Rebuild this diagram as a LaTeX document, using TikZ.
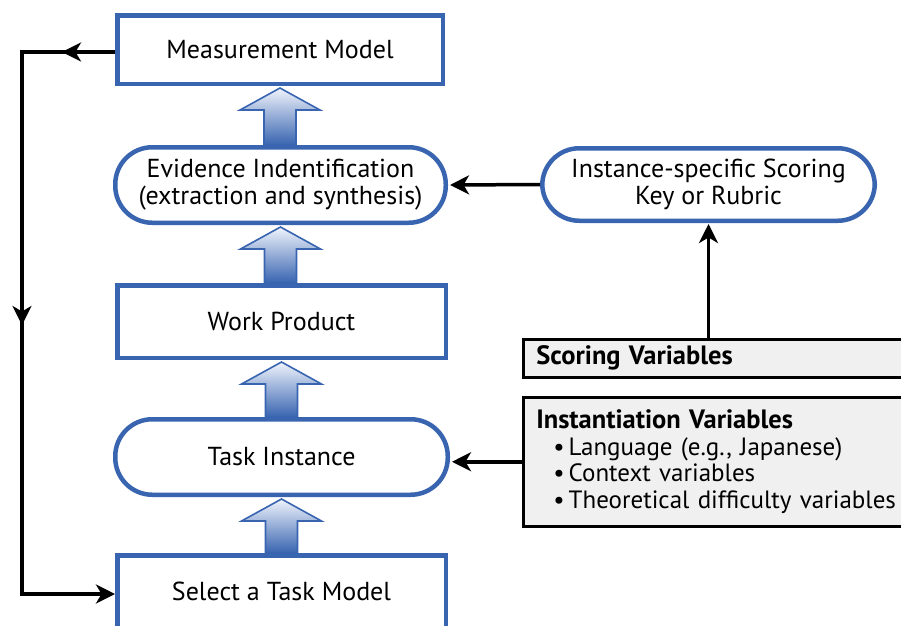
\documentclass[tikz,border=0pt]{standalone}
\usepackage{fontspec}
\setmainfont{PT Sans}
\usetikzlibrary{arrows.meta,decorations.markings,calc}
\definecolor{boxblue}{RGB}{56,100,176}
\definecolor{lightfill}{RGB}{239,240,239}
\definecolor{arrowtop}{RGB}{240,244,252}
\newcommand{\blockarrow}[2]{%
  \shadedraw[top color=arrowtop, bottom color=boxblue, draw=boxblue, line width=1.6pt, line join=miter]
    let \p1=(#1.south), \p2=(#2.north) in
    (\x1,\y1-2pt) -- (\x1+40pt,\y1-24pt) -- (\x1+16pt,\y1-24pt) -- (\x1+16pt,\y2)
    -- (\x1-16pt,\y2) -- (\x1-16pt,\y1-24pt) -- (\x1-40pt,\y1-24pt) -- cycle;}
\begin{document}
\begin{tikzpicture}[x=1pt,y=-1pt,
  txt/.style={font=\fontsize{26}{27}\selectfont},
  bluebox/.style={txt, draw=boxblue, line width=4.5pt, fill=white, minimum width=328.5pt,
    minimum height=72.5pt, inner sep=0pt, align=center},
  roundbox/.style={bluebox, rounded corners=37pt},
  graybox/.style={font=\fontsize{25}{26.5}\selectfont, draw=black, line width=2.5pt,
    fill=lightfill, anchor=north west,
    text width=372pt, inner xsep=13pt, inner ysep=0pt, align=left},
  conn/.style={line width=3.5pt, -{Stealth[length=19pt,width=19pt,inset=5.5pt]}},
  loop/.style={line width=3.5pt, line join=miter,
    postaction={decorate, decoration={markings,
      mark=at position 53pt with {\arrow{Stealth[length=19pt,width=19pt,inset=5.5pt]}},
      mark=at position 366pt with {\arrow{Stealth[length=19pt,width=19pt,inset=5.5pt]}}}}}
]
\useasboundingbox (0,0) rectangle (901,625);

\node[bluebox, minimum width=325.5pt, minimum height=68.5pt] (MM) at (280,49.5) {Measurement Model};
\node[roundbox, minimum width=330.5pt, minimum height=75.5pt] (EI) at (280.5,185)
  {Evidence Indentification\\(extraction and synthesis)};
\node[bluebox] (WP) at (281.5,321.5) {Work Product};
\node[roundbox, minimum width=332.5pt, minimum height=75.5pt] (TI) at (281.5,457) {Task Instance};
\node[bluebox] (SM) at (281.5,591.5) {Select a Task Model};

\node[roundbox, minimum width=332.5pt, minimum height=72.5pt] (ISK) at (708.5,184.5)
  {Instance-specific Scoring\\Key or Rubric};

\node[graybox, minimum height=38pt] (SV) at (522,338) {\fontsize{26.5}{27}\selectfont\bfseries Scoring Variables};
\node[graybox, minimum height=129pt] (IV) at (522,396)
  {{\fontsize{26.5}{26.5}\selectfont\bfseries Instantiation Variables}\\
   \hspace*{17pt}•\,Language (e.g., Japanese)\\
   \hspace*{17pt}•\,Context variables\\
   \hspace*{17pt}•\,Theoretical difficulty variables};

\blockarrow{MM}{EI}
\blockarrow{EI}{WP}
\blockarrow{WP}{TI}
\blockarrow{TI}{SM}

\coordinate (lt) at (22,52);
\draw[loop, -{Stealth[length=19pt,width=19pt,inset=5.5pt]}]
  (MM.west |- lt) -- (lt) -- (lt |- 0,594) -- (SM.west |- 0,594);

\draw[conn, shorten >=2pt] (ISK.west) -- (EI.east);
\draw[conn, shorten >=1pt] (ISK.south |- SV.north) -- (ISK.south);
\draw[conn, shorten >=2pt] (IV.west) -- (IV.west -| TI.east);
\end{tikzpicture}
\end{document}
